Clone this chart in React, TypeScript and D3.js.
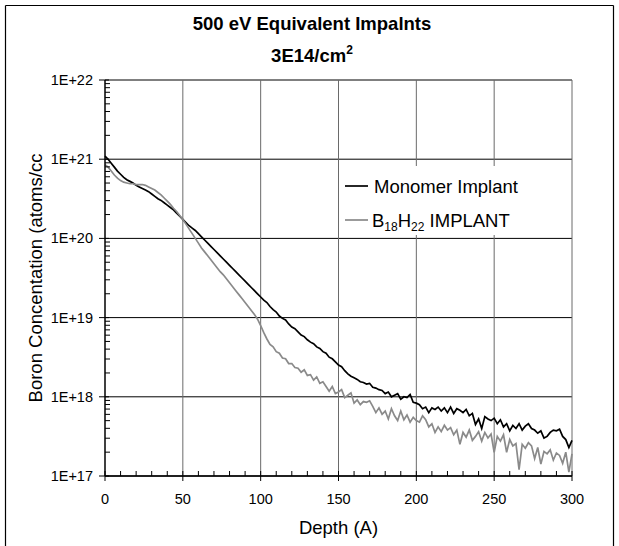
import React from "react";
import * as d3 from "d3";

const W = 619;
const H = 546;

const titleLine1 = "500 eV Equivalent Impalnts";
const titleLine2 = "3E14/cm";
const xTicks = [0, 50, 100, 150, 200, 250, 300];
const yTickExps = [17, 18, 19, 20, 21, 22];
const yTickLabels = ["1E+17", "1E+18", "1E+19", "1E+20", "1E+21", "1E+22"];

// depth step (Angstrom) for both series: 0,2,4,...,300
const depthStep = 2;

// log10 of concentration, Monomer Implant
const monomerLog = [
  21.04, 21.0, 20.95, 20.9, 20.85, 20.81, 20.77, 20.74, 20.72, 20.7,
  20.67, 20.65, 20.63, 20.61, 20.59, 20.56, 20.53, 20.5, 20.48, 20.45,
  20.42, 20.39, 20.36, 20.32, 20.28, 20.24, 20.2, 20.16, 20.13, 20.1,
  20.06, 20.02, 19.98, 19.94, 19.9, 19.86, 19.82, 19.78, 19.74, 19.7,
  19.66, 19.62, 19.58, 19.54, 19.5, 19.46, 19.42, 19.38, 19.34, 19.3,
  19.26, 19.22, 19.19, 19.14, 19.1, 19.07, 19.02, 18.99, 18.97, 18.92,
  18.88, 18.86, 18.82, 18.78, 18.76, 18.72, 18.69, 18.67, 18.63, 18.61,
  18.57, 18.55, 18.5, 18.48, 18.44, 18.4, 18.38, 18.33, 18.29, 18.26,
  18.24, 18.22, 18.19, 18.18, 18.16, 18.17, 18.12, 18.11, 18.09, 18.08,
  18.04, 18.06, 18.0, 18.02, 18.04, 17.97, 18.0, 17.99, 18.03, 17.93,
  17.92, 17.9, 17.85, 17.87, 17.8, 17.86, 17.84, 17.87, 17.82, 17.86,
  17.8, 17.87, 17.79, 17.85, 17.83, 17.8, 17.84, 17.76, 17.79, 17.65,
  17.72, 17.6, 17.75, 17.72, 17.7, 17.73, 17.66, 17.71, 17.62, 17.66,
  17.57, 17.64, 17.6, 17.66, 17.58, 17.63, 17.66, 17.6, 17.58, 17.54,
  17.57, 17.48, 17.5, 17.55, 17.58, 17.57, 17.59, 17.5, 17.46, 17.36,
  17.45,
];

// log10 of concentration, B18H22 IMPLANT
const b18h22Log = [
  20.93, 20.9, 20.85, 20.8, 20.76, 20.73, 20.71, 20.7, 20.69, 20.69,
  20.68, 20.68, 20.68, 20.67, 20.65, 20.63, 20.61, 20.58, 20.55, 20.51,
  20.47, 20.43, 20.38, 20.34, 20.29, 20.24, 20.18, 20.12, 20.06, 20.0,
  19.94, 19.88, 19.83, 19.78, 19.73, 19.68, 19.63, 19.58, 19.54, 19.49,
  19.44, 19.39, 19.34, 19.29, 19.24, 19.19, 19.14, 19.09, 19.04, 18.98,
  18.9, 18.81, 18.73, 18.66, 18.63, 18.57, 18.55, 18.49, 18.48, 18.42,
  18.42, 18.37, 18.36, 18.31, 18.34, 18.27, 18.28, 18.21, 18.25, 18.17,
  18.19, 18.13, 18.07, 18.13, 18.04, 18.06, 18.09, 17.99, 18.02, 18.05,
  17.92, 17.96, 17.9, 17.94, 17.93, 17.95, 17.88, 17.8, 17.86, 17.78,
  17.82, 17.72, 17.85, 17.76, 17.7, 17.82, 17.71, 17.77, 17.68, 17.74,
  17.7, 17.68, 17.76, 17.71, 17.62, 17.66, 17.55, 17.62, 17.56, 17.64,
  17.58, 17.61, 17.52, 17.58, 17.4, 17.55, 17.49, 17.58, 17.45, 17.5,
  17.56, 17.44, 17.55, 17.48, 17.53, 17.3, 17.5, 17.44, 17.52, 17.3,
  17.46, 17.38, 17.41, 17.08, 17.4, 17.35, 17.42, 17.38, 17.22, 17.36,
  17.15, 17.31, 17.28, 17.33, 17.2, 17.29, 17.26, 17.16, 17.3, 17.05,
  17.28,
];

const legendLabels = ["Monomer Implant", "B18H22 IMPLANT"];

const FONT = "Arial, 'Liberation Sans', Helvetica, sans-serif";

export default function App() {
  const x = d3.scaleLinear().domain([0, 300]).range([105, 572]);
  const y = d3.scaleLog().domain([1e17, 1e22]).range([476, 80]);

  const toPts = (arr: number[]) =>
    arr.map((v, i) => [i * depthStep, Math.pow(10, v)] as [number, number]);
  const line = d3
    .line<[number, number]>()
    .x((d) => x(d[0]))
    .y((d) => y(d[1]));

  const minorY: number[] = [];
  for (let e = 17; e < 22; e++) {
    for (let m = 2; m <= 9; m++) minorY.push(m * Math.pow(10, e));
  }
  const minorX = d3.range(0, 301, 10).filter((v) => v % 50 !== 0);

  const [x0, x1] = x.range();
  const [yb, yt] = y.range();

  return (
    <div style={{ position: "absolute", left: 0, top: 0 }}>
      <svg width={W} height={H} style={{ display: "block", background: "#fff" }}>
        <rect x={0} y={0} width={W} height={H} fill="#fff" />
        {/* outer frame */}
        <line x1={5.5} y1={5.5} x2={613.5} y2={5.5} stroke="#000" strokeWidth={1.2} />
        <line x1={5.5} y1={5.5} x2={5.5} y2={H} stroke="#000" strokeWidth={1.2} />
        <line x1={613.5} y1={5.5} x2={613.5} y2={H} stroke="#000" strokeWidth={1.2} />

        {/* title */}
        <text x={312} y={30} textAnchor="middle" fontFamily={FONT} fontWeight="bold" fontSize={18.5}>
          {titleLine1}
        </text>
        <text x={312} y={62} textAnchor="middle" fontFamily={FONT} fontWeight="bold" fontSize={18.5}>
          {titleLine2}
          <tspan fontSize={12} dy={-8}>2</tspan>
        </text>

        {/* horizontal gridlines */}
        {yTickExps.map((e) => (
          <line key={"hg" + e} x1={x0} x2={x1} y1={y(Math.pow(10, e))} y2={y(Math.pow(10, e))} stroke="#000" strokeWidth={1} />
        ))}
        {/* vertical gridlines */}
        {xTicks.filter((t) => t > 0).map((t) => (
          <line key={"vg" + t} x1={x(t)} x2={x(t)} y1={yt} y2={yb} stroke="#6a6a6a" strokeWidth={1} />
        ))}

        {/* legend background */}
        <rect x={341} y={166} width={194} height={69} fill="#fff" />

        {/* series */}
        <path d={line(toPts(monomerLog)) || ""} fill="none" stroke="#000" strokeWidth={1.7} />
        <path d={line(toPts(b18h22Log)) || ""} fill="none" stroke="#8a8a8a" strokeWidth={1.7} />

        {/* axes */}
        <line x1={x0} x2={x0} y1={yt} y2={yb} stroke="#000" strokeWidth={1.5} />
        <line x1={x0} x2={x1} y1={yb} y2={yb} stroke="#000" strokeWidth={1.5} />
        {yTickExps.map((e) => (
          <line key={"yt" + e} x1={x0 - 6} x2={x0 + 4} y1={y(Math.pow(10, e))} y2={y(Math.pow(10, e))} stroke="#000" strokeWidth={1} />
        ))}
        {minorY.map((v) => (
          <line key={"ym" + v} x1={x0} x2={x0 + 5} y1={y(v)} y2={y(v)} stroke="#000" strokeWidth={1} />
        ))}
        {xTicks.map((t) => (
          <line key={"xt" + t} x1={x(t)} x2={x(t)} y1={yb - 5} y2={yb + 5} stroke="#000" strokeWidth={1} />
        ))}
        {minorX.map((t) => (
          <line key={"xm" + t} x1={x(t)} x2={x(t)} y1={yb - 5} y2={yb} stroke="#000" strokeWidth={1} />
        ))}

        {/* tick labels */}
        {yTickExps.map((e, i) => (
          <text key={"yl" + e} x={93} y={y(Math.pow(10, e)) + 5} textAnchor="end" fontFamily={FONT} fontSize={14.5}>
            {yTickLabels[i]}
          </text>
        ))}
        {xTicks.map((t) => (
          <text key={"xl" + t} x={x(t)} y={504} textAnchor="middle" fontFamily={FONT} fontSize={14.5}>
            {t}
          </text>
        ))}

        {/* axis titles */}
        <text x={338.5} y={534} textAnchor="middle" fontFamily={FONT} fontSize={18.5}>
          Depth (A)
        </text>
        <text transform="translate(42,278) rotate(-90)" textAnchor="middle" fontFamily={FONT} fontSize={18.5}>
          Boron Concentation (atoms/cc
        </text>

        {/* legend */}
        <line x1={345} x2={368} y1={186} y2={186} stroke="#000" strokeWidth={1.7} />
        <text x={374} y={193} fontFamily={FONT} fontSize={18.5}>
          {legendLabels[0]}
        </text>
        <line x1={345} x2={368} y1={220} y2={220} stroke="#8a8a8a" strokeWidth={1.7} />
        <text x={372} y={227} fontFamily={FONT} fontSize={18.5}>
          B<tspan fontSize={12} dy={4}>18</tspan>
          <tspan dy={-4}>H</tspan>
          <tspan fontSize={12} dy={4}>22</tspan>
          <tspan dy={-4}> IMPLANT</tspan>
        </text>
      </svg>
    </div>
  );
}
